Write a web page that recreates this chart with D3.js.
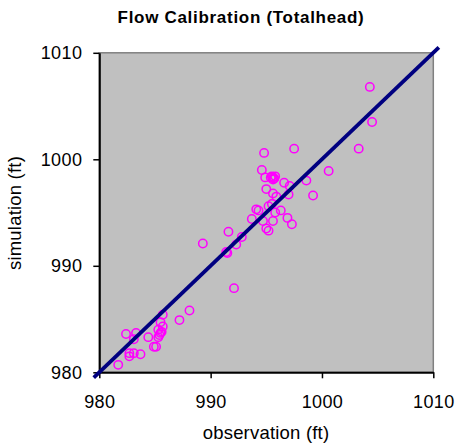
<!DOCTYPE html>
<html>
<head>
<meta charset="utf-8">
<script src="https://cdn.jsdelivr.net/npm/d3@7"></script>
<style>
  body { margin: 0; background: #fff; }
  text { font-family: "Liberation Sans", Arial, sans-serif; }
</style>
</head>
<body>
<div class="chart"></div>
<script>
// observed vs simulated heads (ft)
var observation = [
  1004.3, 1004.5, 1003.3, 997.5, 994.8, 1000.6, 994.6, 994.9,
  995.5, 995.7, 995.8, 995.6, 995.4, 996.6, 997.1, 998.6,
  995.0, 995.6, 995.9, 997.0, 999.2, 995.5, 995.2, 994.1,
  994.3, 996.3, 995.8, 993.7, 994.7, 995.6, 996.9, 997.3,
  995.0, 995.2, 991.6, 989.3, 992.8, 992.3, 991.4, 991.5,
  992.1, 988.1, 987.2, 985.7, 985.5, 985.7, 985.3, 985.5,
  985.4, 985.3, 985.6, 984.4, 984.9, 985.1, 982.4, 983.3,
  983.1, 982.7, 982.7, 983.1, 983.7, 981.7, 995.6, 995.7
];
var simulation = [
  1006.8, 1003.5, 1001.0, 1001.0, 1000.6, 998.9, 999.0, 998.3,
  998.4, 998.2, 998.4, 998.1, 998.3, 997.8, 997.5, 998.0,
  997.2, 996.8, 996.5, 996.7, 996.6, 995.8, 995.6, 995.3,
  995.2, 995.2, 995.0, 994.4, 994.2, 994.2, 994.5, 993.9,
  993.5, 993.3, 993.2, 992.1, 992.7, 992.0, 991.3, 991.2,
  987.9, 985.8, 984.9, 985.4, 984.7, 984.3, 984.0, 983.7,
  983.5, 983.3, 983.8, 983.3, 982.4, 982.4, 983.6, 983.7,
  983.1, 981.8, 981.5, 981.8, 981.7, 980.7, 998.3, 998.2
];
var tickValues = [980, 990, 1000, 1010];
var oneToOne = [979.5, 1010.5];   // 1:1 line

var W = 457, H = 445;
var x = d3.scaleLinear().domain([980, 1010]).range([99.3, 433.3]);
var y = d3.scaleLinear().domain([980, 1010]).range([372.3, 52.8]);

var svg = d3.select(".chart").append("svg")
    .attr("width", W).attr("height", H);

// title
svg.append("text")
    .attr("x", 241).attr("y", 23)
    .attr("text-anchor", "middle")
    .style("font-size", "17px")
    .style("font-weight", "bold")
    .style("letter-spacing", "0.7px")
    .text("Flow Calibration (Totalhead)");

// plot area
svg.append("rect")
    .attr("x", x(980)).attr("y", y(1010))
    .attr("width", x(1010) - x(980))
    .attr("height", y(980) - y(1010))
    .attr("fill", "#c0c0c0")
    .attr("stroke", "#808080")
    .attr("stroke-width", 1.5);

// axes
var fmt = d3.format("d");
var xAxis = svg.append("g")
    .attr("transform", "translate(0," + y(980) + ")")
    .call(d3.axisBottom(x).tickValues(tickValues).tickFormat(fmt)
        .tickSize(6).tickPadding(17).tickSizeOuter(0));
var yAxis = svg.append("g")
    .attr("transform", "translate(" + x(980) + ",0)")
    .call(d3.axisLeft(y).tickValues(tickValues).tickFormat(fmt)
        .tickSize(6).tickPadding(11).tickSizeOuter(0));

[xAxis, yAxis].forEach(function(a) {
    a.select(".domain").attr("stroke", "#000").attr("stroke-width", 2);
    a.selectAll(".tick line").attr("stroke", "#000").attr("stroke-width", 1.5);
    a.selectAll("text")
        .attr("fill", "#000")
        .style("font-size", "18px")
        .style("font-family", "Liberation Sans, Arial, sans-serif")
        .style("letter-spacing", "0.4px");
});

// axis titles
svg.append("text")
    .attr("x", 266).attr("y", 439)
    .attr("text-anchor", "middle")
    .style("font-size", "18.5px")
    .style("letter-spacing", "0.2px")
    .text("observation (ft)");
svg.append("text")
    .attr("transform", "translate(21,213) rotate(-90)")
    .attr("text-anchor", "middle")
    .style("font-size", "18.5px")
    .style("letter-spacing", "0.2px")
    .text("simulation (ft)");

// points
var pts = observation.map(function(d, i) { return { obs: d, sim: simulation[i] }; });
svg.append("g").selectAll("circle")
    .data(pts)
    .enter()
    .append("circle")
    .attr("cx", function(d) { return x(d.obs); })
    .attr("cy", function(d) { return y(d.sim); })
    .attr("r", 4.2)
    .attr("fill", "none")
    .attr("stroke", "#ff00ff")
    .attr("stroke-width", 1.5);

// 1:1 line
svg.append("line")
    .attr("x1", x(oneToOne[0])).attr("y1", y(oneToOne[0]))
    .attr("x2", x(oneToOne[1])).attr("y2", y(oneToOne[1]))
    .attr("stroke", "#000080")
    .attr("stroke-width", 3.8);
</script>
</body>
</html>
